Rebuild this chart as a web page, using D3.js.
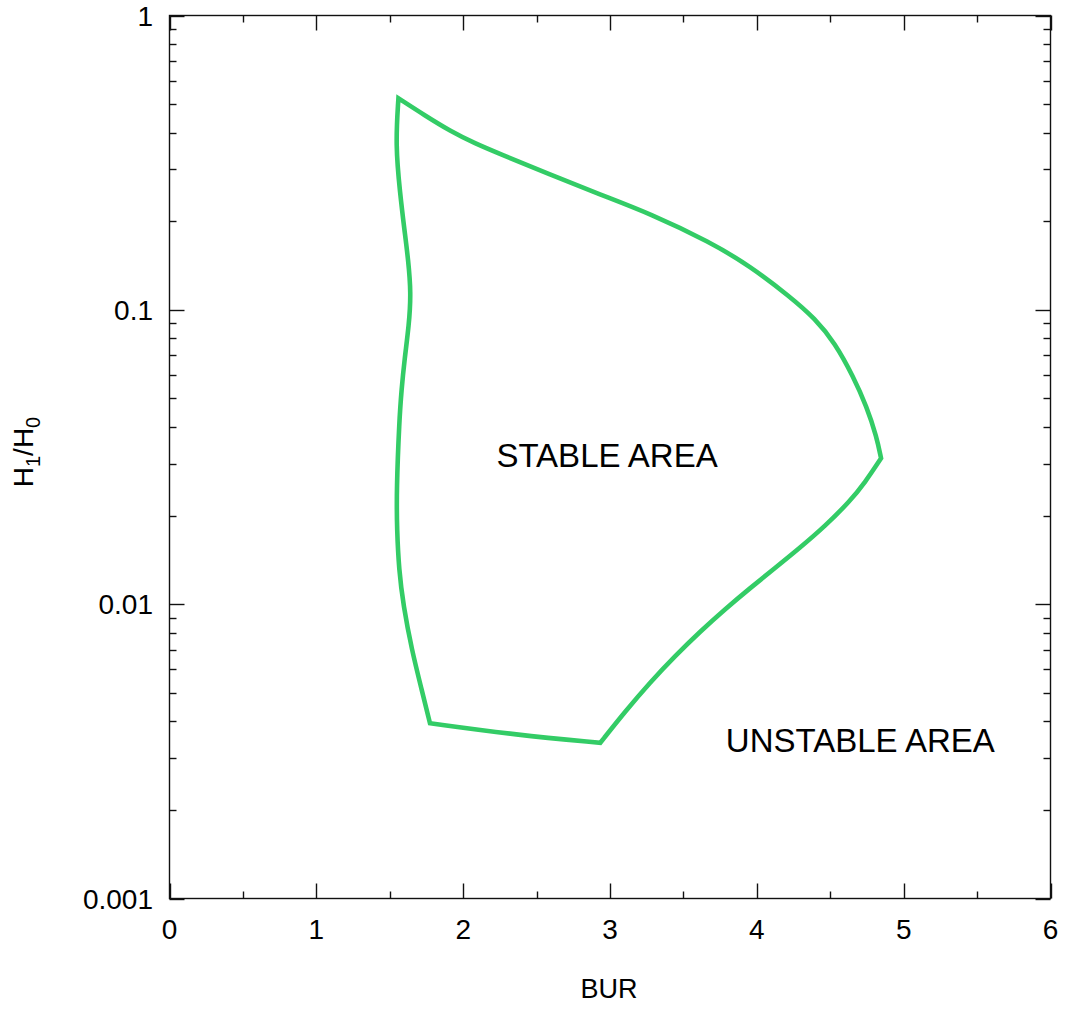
<!DOCTYPE html>
<html>
<head>
<meta charset="utf-8">
<script src="https://cdn.jsdelivr.net/npm/d3@7"></script>
<style>
  html, body { margin: 0; padding: 0; background: #fff; }
  svg { display: block; font-family: "Liberation Sans", Arial, sans-serif; }
</style>
</head>
<body>
<svg id="chart" width="1065" height="1009"></svg>
<script>
// ---- Data (BUR, H1/H0) ----
const leftEdgeBUR   = [1.559, 1.539, 1.570, 1.600, 1.626, 1.645, 1.631, 1.600, 1.580, 1.565, 1.546, 1.549, 1.563, 1.592, 1.650, 1.718, 1.774];
const leftEdgeH     = [0.5232, 0.3631, 0.2494, 0.1867, 0.1477, 0.1141, 0.0888, 0.0675, 0.0534, 0.0422, 0.0244, 0.01786, 0.01306, 0.00994, 0.00699, 0.00511, 0.00394];
const bottomEdgeBUR = [1.774, 2.366, 2.934];
const bottomEdgeH   = [0.00394, 0.003592, 0.003382];
const lowerRightBUR = [2.934, 3.102, 3.272, 3.443, 3.613, 3.783, 3.953, 4.124, 4.294, 4.464, 4.634, 4.737, 4.846];
const lowerRightH   = [0.003382, 0.004311, 0.005418, 0.006665, 0.008062, 0.009614, 0.011326, 0.01327, 0.015553, 0.018402, 0.022377, 0.025906, 0.0313];
const upperRightBUR = [4.846, 4.816, 4.748, 4.657, 4.532, 4.396, 4.226, 3.953, 3.681, 3.272, 2.932, 2.591, 2.251, 2.081, 1.911, 1.740, 1.559];
const upperRightH   = [0.0313, 0.03707, 0.04688, 0.05927, 0.07714, 0.09345, 0.1108, 0.1409, 0.1700, 0.2125, 0.2465, 0.2884, 0.3385, 0.3674, 0.4051, 0.4572, 0.5232];

const xTickValues = [0, 1, 2, 3, 4, 5, 6];
const xMinorValues = [0.5, 1.5, 2.5, 3.5, 4.5, 5.5];
const yTickValues = [0.001, 0.01, 0.1, 1];
const yTickLabels = ["0.001", "0.01", "0.1", "1"];
const annotations = [
  { text: "STABLE AREA", bur: 2.98, h: 0.02924 },
  { text: "UNSTABLE AREA", bur: 4.705, h: 0.003146 }
];

// ---- Layout ----
const svg = d3.select("#chart");
const L = 169.5, R = 1050.5, T = 15.5, B = 898.5;
const x = d3.scaleLinear().domain([0, 6]).range([L, R]);
const y = d3.scaleLog().domain([0.001, 1]).range([B, T]);

const axisColor = "#111";
const major = 15, minor = 7;

const yMinor = [];
[0.001, 0.01, 0.1].forEach(d => { for (let k = 2; k <= 9; k++) yMinor.push(d * k); });

const g = svg.append("g");

g.append("rect").attr("x", L).attr("y", T).attr("width", R - L).attr("height", B - T)
  .attr("fill", "none").attr("stroke", axisColor).attr("stroke-width", 1.4);

function yTicks(vals, len) {
  vals.forEach(v => {
    const yy = Math.round(y(v)) + 0.5;
    g.append("line").attr("x1", L).attr("x2", L + len).attr("y1", yy).attr("y2", yy)
      .attr("stroke", axisColor).attr("stroke-width", 1.4);
    g.append("line").attr("x1", R).attr("x2", R - len).attr("y1", yy).attr("y2", yy)
      .attr("stroke", axisColor).attr("stroke-width", 1.4);
  });
}
yTicks(yTickValues, major);
yTicks(yMinor, minor);

function xTicks(vals, len) {
  vals.forEach(v => {
    const xx = Math.round(x(v)) + 0.5;
    g.append("line").attr("x1", xx).attr("x2", xx).attr("y1", B).attr("y2", B - len)
      .attr("stroke", axisColor).attr("stroke-width", 1.4);
    g.append("line").attr("x1", xx).attr("x2", xx).attr("y1", T).attr("y2", T + len)
      .attr("stroke", axisColor).attr("stroke-width", 1.4);
  });
}
xTicks(xTickValues, major);
xTicks(xMinorValues, minor);

g.selectAll(".xl").data(xTickValues).enter().append("text")
  .attr("x", d => x(d)).attr("y", 939)
  .attr("text-anchor", "middle").attr("font-size", 28).attr("fill", "#000")
  .text(d => d);

g.selectAll(".yl").data(yTickValues).enter().append("text")
  .attr("x", 153).attr("y", d => y(d)).attr("dy", "0.36em")
  .attr("text-anchor", "end").attr("font-size", 28).attr("fill", "#000")
  .text((d, i) => yTickLabels[i]);

g.append("text").attr("x", 609).attr("y", 998).attr("text-anchor", "middle")
  .attr("font-size", 27).attr("fill", "#000").text("BUR");

const yt = g.append("text").attr("transform", "translate(33,452) rotate(-90)")
  .attr("text-anchor", "middle").attr("font-size", 28).attr("fill", "#000");
yt.append("tspan").text("H");
yt.append("tspan").attr("font-size", 20).attr("dy", 7).text("1");
yt.append("tspan").attr("dy", -7).text("/H");
yt.append("tspan").attr("font-size", 20).attr("dy", 7).text("0");

g.selectAll(".ann").data(annotations).enter().append("text")
  .attr("x", d => x(d.bur)).attr("y", d => y(d.h))
  .attr("text-anchor", "middle").attr("font-size", 33).attr("fill", "#000")
  .text(d => d.text);

// Boundary curve: four smooth edges joined at sharp corners
const segments = [
  d3.zip(leftEdgeBUR, leftEdgeH),
  d3.zip(bottomEdgeBUR, bottomEdgeH),
  d3.zip(lowerRightBUR, lowerRightH),
  d3.zip(upperRightBUR, upperRightH)
];
const line = d3.line().x(d => x(d[0])).y(d => y(d[1])).curve(d3.curveBasis);
let first = true;
const joined = segments.map(s => line(s)).join("")
  .replace(/M/g, () => { if (first) { first = false; return "M"; } return "L"; });
g.append("path").attr("d", joined + "Z")
  .attr("fill", "none").attr("stroke", "#33cc66").attr("stroke-width", 4.6)
  .attr("stroke-linejoin", "miter");
</script>
</body>
</html>
